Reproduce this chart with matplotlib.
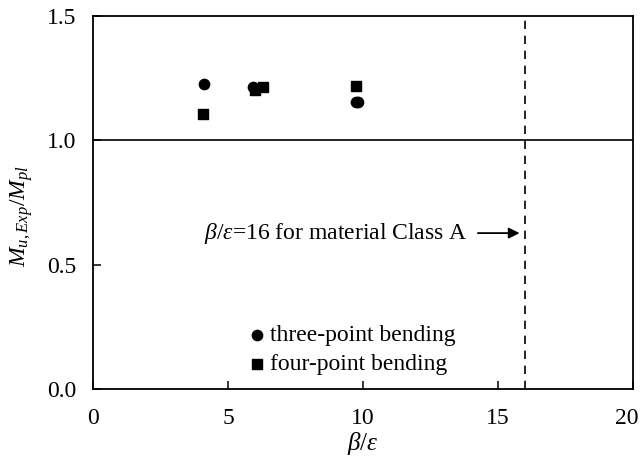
import matplotlib
matplotlib.use("Agg")
import matplotlib.pyplot as plt
from matplotlib.transforms import ScaledTranslation

three_x = [4.1, 5.93, 9.74, 9.81]
three_y = [1.225, 1.216, 1.155, 1.153]
four_x = [4.07, 6.0, 6.28, 9.74]
four_y = [1.106, 1.203, 1.213, 1.218]
class_a_limit = 16
xticks = [0, 5, 10, 15, 20]
yticks = [0.0, 0.5, 1.0, 1.5]

plt.rcParams['font.family'] = ['Liberation Serif', 'DejaVu Serif']
plt.rcParams['mathtext.fontset'] = 'custom'
plt.rcParams['mathtext.it'] = 'Liberation Serif:italic'
plt.rcParams['mathtext.rm'] = 'Liberation Serif'

fig = plt.figure(figsize=(6.43, 4.63), dpi=100)
ax = fig.add_axes([0.1446, 0.1598, 0.84, 0.8056])

ax.scatter(three_x, three_y, marker='o', s=55, color='black', label='three-point bending', zorder=3)
ax.scatter(four_x, four_y, marker='s', s=50, color='black', label='four-point bending', zorder=3)

ax.axhline(1.0, color='black', lw=1.2)
ax.axvline(class_a_limit, color='black', lw=1.2, ls=(0, (5, 4)))

ax.annotate('', xy=(15.9, 0.627), xytext=(14.15, 0.627),
            arrowprops=dict(arrowstyle='-|>', color='black', lw=1.3, mutation_scale=16))
ax.text(13.87, 0.627, r'$\beta/\varepsilon$=16 for material Class A', ha='right', va='center', fontsize=17)

ax.set_xlim(0, 20)
ax.set_ylim(0, 1.5)
ax.set_xticks(xticks)
ax.set_yticks(yticks)
ax.set_yticklabels([f'{v:.1f}' for v in yticks])
ax.tick_params(direction='in', labelsize=17, length=6, width=1.1, pad=12)
ax.tick_params(axis='x', pad=14)
for s in ax.spines.values():
    s.set_linewidth(1.3)

ax.set_xlabel(r'$\beta/\varepsilon$', fontsize=18)
ax.set_ylabel(r'$M_{u,Exp}/M_{pl}$', fontsize=17)
ax.xaxis.set_label_coords(0.5, -0.11)
ax.yaxis.set_label_coords(-0.108, 0.464)

ax.legend(loc='center left', bbox_to_anchor=(0.286, 0.105), frameon=False, fontsize=17,
          handletextpad=0.15, handlelength=0.8, labelspacing=0.3, borderpad=0,
          borderaxespad=0, scatterpoints=1)

# keep the last x tick label inside the canvas
fig.canvas.draw()
last = ax.get_xticklabels()[-1]
last.set_transform(last.get_transform() + ScaledTranslation(-6 / 100, 0, fig.dpi_scale_trans))

fig.savefig('out.png', dpi=100)
